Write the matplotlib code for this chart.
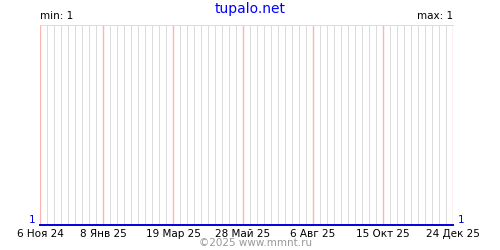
import matplotlib
matplotlib.use("Agg")
import matplotlib.pyplot as plt
import matplotlib.dates as mdates
import matplotlib.ticker as mticker
import numpy as np
import pandas as pd

title = "tupalo.net"
dates = pd.to_datetime(["2024-11-06", "2025-12-24"])
values = [1, 1]
tick_dates = pd.to_datetime(["2024-11-06", "2025-01-08", "2025-03-19", "2025-05-28",
                             "2025-08-06", "2025-10-15", "2025-12-24"])
tick_labels = ["6 Ноя 24", "8 Янв 25", "19 Мар 25", "28 Май 25", "6 Авг 25", "15 Окт 25", "24 Дек 25"]
vmin = min(values)
vmax = max(values)

plt.rcParams["font.family"] = ["DejaVu Sans"]

fig = plt.figure(figsize=(5, 2.5), dpi=100)
ax = fig.add_axes([40 / 500, 0.1, 413 / 500, 0.8])

ax.set_xlim(dates[0], dates[-1])
ax.set_ylim(vmin, vmin + 1)

# weekly grey lines, red lines at labelled dates
weeks = pd.date_range(dates[0], dates[-1], freq="W-WED")
weeks = weeks[~weeks.isin(tick_dates)]
ax.xaxis.set_minor_locator(mticker.FixedLocator(mdates.date2num(weeks)))
ax.xaxis.set_major_locator(mticker.FixedLocator(mdates.date2num(tick_dates)))
ax.xaxis.set_major_formatter(mticker.FixedFormatter(tick_labels))
ax.grid(True, which="minor", axis="x", color="#dcdcdc", linewidth=0.72, antialiased=False)
ax.set_axisbelow(True)
for d in tick_dates:
    ax.axvline(d, color="#ffb4b4", linewidth=1.0, zorder=1)
ax.tick_params(axis="x", which="both", length=0, pad=3, labelsize=7.5)
ax.set_yticks([])

for s in ["left", "right", "bottom"]:
    ax.spines[s].set_visible(False)
ax.spines["top"].set_color("#dcdcdc")
ax.spines["top"].set_linewidth(0.72)
ax.spines["top"].set_antialiased(False)

ax.plot(dates, values, color="#0000dd", linewidth=1.4, clip_on=False, zorder=5)

fig.text(0.5, 0.965, title, ha="center", va="center", color="#0000ff", fontsize=10)
ax.text(0.0, 1.02, "min: %d" % vmin, transform=ax.transAxes, ha="left", va="bottom", fontsize=7.5)
ax.text(1.0, 1.02, "max: %d" % vmax, transform=ax.transAxes, ha="right", va="bottom", fontsize=7.5)
ax.text(-0.012, 0.0, "%d" % values[0], transform=ax.transAxes, ha="right", va="bottom",
        color="#0000dd", fontsize=7.5)
ax.text(1.012, 0.0, "%d" % values[-1], transform=ax.transAxes, ha="left", va="bottom",
        color="#0000dd", fontsize=7.5)
fig.text(0.512, 0.028, "©2025 www.mmnt.ru", ha="center", va="center", color="#999999", fontsize=7.5)

plt.savefig("out.png", dpi=100)
